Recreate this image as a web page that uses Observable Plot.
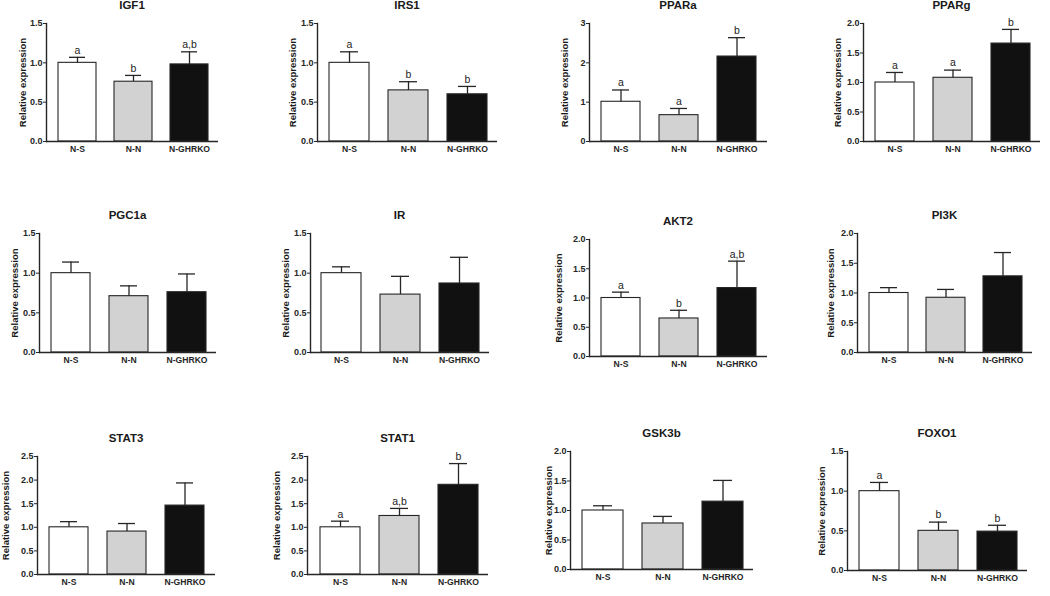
<!DOCTYPE html>
<html><head><meta charset="utf-8">
<script src="https://cdn.jsdelivr.net/npm/d3@7"></script>
<script src="https://cdn.jsdelivr.net/npm/@observablehq/plot@0.6"></script>
<style>
html,body{margin:0;padding:0;background:#fff}
body{width:1050px;height:596px;overflow:hidden;font-family:"Liberation Sans",Arial,sans-serif}
#root{position:relative;width:1050px;height:596px}
.panel{position:absolute}
.panel svg{overflow:visible;display:block}
.title{position:absolute;font-weight:bold;font-size:11.5px;line-height:12px;text-align:center;color:#1a1a1a;white-space:nowrap}
</style></head><body><div id="root"></div>
<script>
// ---- data ----
const groups = ["N-S", "N-N", "N-GHRKO"];
const genes = ["IGF1","IRS1","PPARa","PPARg","PGC1a","IR","AKT2","PI3K","STAT3","STAT1","GSK3b","FOXO1"];
const meanNS = [1.00,1.00,1.01,1.00,1.00,1.00,1.00,1.00,1.00,1.00,1.00,1.00];
const meanNN = [0.76,0.65,0.67,1.08,0.71,0.73,0.65,0.92,0.91,1.24,0.78,0.50];
const meanGH = [0.98,0.60,2.16,1.66,0.76,0.87,1.17,1.28,1.46,1.90,1.15,0.49];
const semNS  = [0.07,0.14,0.30,0.17,0.14,0.08,0.10,0.09,0.12,0.13,0.08,0.11];
const semNN  = [0.08,0.11,0.17,0.13,0.13,0.23,0.14,0.14,0.17,0.16,0.12,0.11];
const semGH  = [0.16,0.10,0.48,0.24,0.23,0.33,0.46,0.40,0.48,0.45,0.36,0.08];
const letterNS = ["a","a","a","a","","","a","","","a","","a"];
const letterNN = ["b","b","a","a","","","b","","","a,b","","b"];
const letterGH = ["a,b","b","b","b","","","a,b","","","b","","b"];
const yMax  = [1.5,1.5,3,2,1.5,1.5,2,2,2.5,2.5,2,1.5];
const yStep = [0.5,0.5,1,0.5,0.5,0.5,0.5,0.5,0.5,0.5,0.5,0.5];
const yLabel = "Relative expression";

// ---- layout (frame left, top, right, bottom in page px; y-label offset) ----
const frames = [
  [46,23,218,141],[317,23,497,141],[589,23,767,141],[863,23,1040,141],
  [39,233,216,352],[310,233,489,352],[589,239,767,356],[857,233,1032,352],
  [37,456,215,574],[307,456,488,574],[570,451,753,569],[847,451,1027,570]];
const labelDx = [-24,-25,-25,-26,-25,-25,-31,-27,-32,-31,-22,-26];

const fills = {"N-S":"#ffffff","N-N":"#d2d2d2","N-GHRKO":"#111111"};
const ink = "#262626";
const root = document.getElementById("root");
const font = '"Liberation Sans", Arial, sans-serif';

genes.forEach((gene, i) => {
  const [fx0, fy0, fx1, fy1] = frames[i];
  const means = [meanNS[i], meanNN[i], meanGH[i]];
  const sems = [semNS[i], semNN[i], semGH[i]];
  const letters = [letterNS[i], letterNN[i], letterGH[i]];
  const data = groups.map((g, j) => ({group: g, mean: means[j], upper: means[j] + sems[j], letter: letters[j]}));
  const ticks = d3.range(0, yMax[i] + 1e-9, yStep[i]);
  const fmt = yStep[i] >= 1 ? d3.format("d") : d3.format(".1f");
  const mL = 46, mR = 4, mT = 4, mB = 22;
  const plot = Plot.plot({
    width: mL + (fx1 - fx0) + mR,
    height: mT + (fy1 - fy0) + mB,
    marginLeft: mL, marginRight: mR, marginTop: mT, marginBottom: mB,
    style: {fontFamily: font, fontSize: "8px", fontWeight: "bold", color: ink, background: "transparent"},
    x: {domain: groups, paddingInner: 0.32, paddingOuter: 0.17, align: 0.55},
    y: {domain: [0, yMax[i]]},
    marks: [
      Plot.barY(data, {x: "group", y: "mean", fill: d => fills[d.group], stroke: ink, strokeWidth: 1.1}),
      Plot.ruleX(data, {x: "group", y1: "mean", y2: "upper", stroke: ink, strokeWidth: 1.3}),
      Plot.tickY(data, {x: "group", y: "upper", insetLeft: 11, insetRight: 11, stroke: ink, strokeWidth: 1.3}),
      Plot.text(data, {x: "group", y: "upper", text: "letter", dy: -7, fontSize: 10.5, fontWeight: "normal", fill: "#222"}),
      Plot.ruleY([0], {stroke: ink, strokeWidth: 1.4}),
      Plot.frame({anchor: "left", stroke: ink, strokeWidth: 1.4}),
      Plot.axisY({ticks, tickFormat: fmt, tickSize: 3, tickPadding: 1, label: null, fontSize: 9}),
      Plot.axisX({tickSize: 0, tickPadding: 4, label: null, fontSize: 8.6}),
      Plot.text([yLabel], {text: d => d, frameAnchor: "left", textAnchor: "middle", rotate: -90, dx: labelDx[i], fontSize: 9.5, fontWeight: "bold", fill: "#1a1a1a"})
    ]
  });
  const div = document.createElement("div");
  div.className = "panel";
  div.style.left = (fx0 - mL) + "px";
  div.style.top = (fy0 - mT) + "px";
  div.appendChild(plot);
  root.appendChild(div);
  const t = document.createElement("div");
  t.className = "title";
  t.textContent = gene;
  t.style.left = fx0 + "px";
  t.style.width = (fx1 - fx0) + "px";
  t.style.top = (fy0 - 24) + "px";
  root.appendChild(t);
});
</script>
</body></html>
